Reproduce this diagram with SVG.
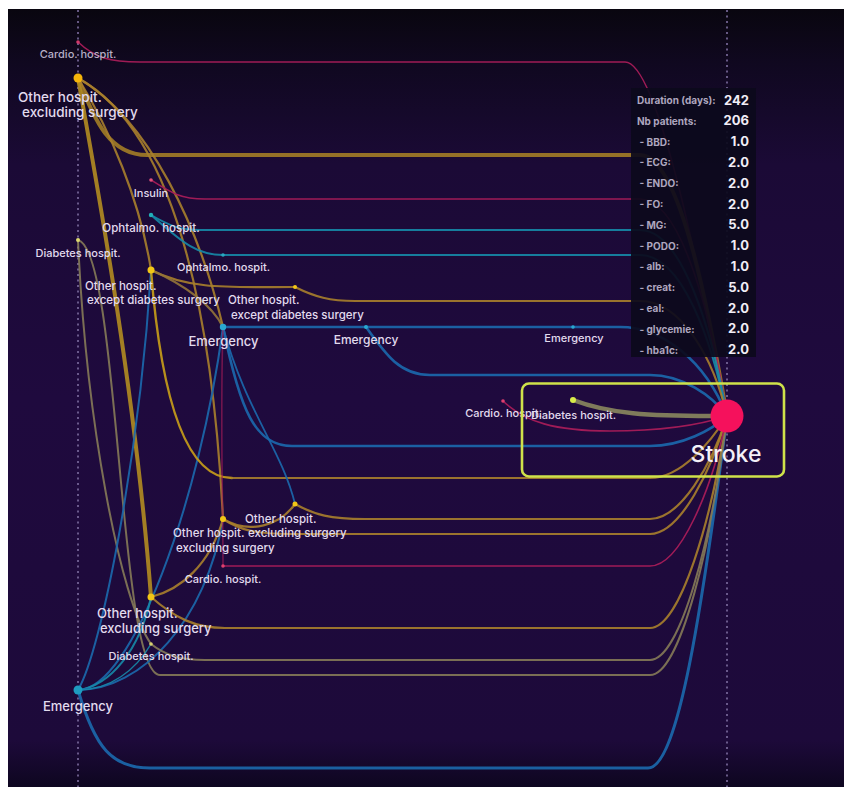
<svg xmlns="http://www.w3.org/2000/svg" width="844" height="787" viewBox="0 0 844 787">
  <defs>
    <linearGradient id="bg" x1="0" y1="9" x2="0" y2="787" gradientUnits="userSpaceOnUse">
      <stop offset="0" stop-color="#09060f"/>
      <stop offset="0.07" stop-color="#100820"/>
      <stop offset="0.2" stop-color="#1b0a36"/>
      <stop offset="0.5" stop-color="#1f0a3e"/>
      <stop offset="0.94" stop-color="#1d0a3a"/>
      <stop offset="1" stop-color="#0e0620"/>
    </linearGradient>
    <style>
      .axis { stroke: #7e6ea0; stroke-width: 1.6; stroke-dasharray: 2 3.5; fill: none; }
      .lk { fill: none; stroke-linecap: round; }
      .yt { stroke: #a07b26; stroke-width: 4; opacity: 0.92; }
      .yb { stroke: #c99e18; stroke-width: 3.2; opacity: 0.9; }
      .y { stroke: #a97f2c; stroke-width: 2.2; opacity: 0.9; }
      .g { stroke: #857a58; stroke-width: 2; opacity: 0.9; }
      .r { stroke: #a81c58; stroke-width: 1.6; opacity: 0.95; }
      .t { stroke: #168aa8; stroke-width: 2; opacity: 0.9; }
      .b { stroke: #1b68ab; stroke-width: 2.6; opacity: 0.92; }
      .lbl { font-family: Inter, "Noto Sans", "Liberation Sans", sans-serif; fill: #e2dbee; font-weight: 500; }
      .s11 { font-size: 11px; }
      .s115 { font-size: 11.5px; }
      .s12 { font-size: 12px; }
      .s13 { font-size: 13px; }
      .s135 { font-size: 13.5px; }
      .mid { text-anchor: middle; }
      .tk { font-family: Inter, "Noto Sans", "Liberation Sans", sans-serif; font-size: 10px; font-weight: 700; fill: #aea6bf; }
      .tv { font-family: Inter, "Noto Sans", "Liberation Sans", sans-serif; font-size: 13px; font-weight: 700; fill: #f1edf6; text-anchor: end; }
    </style>
  </defs>

  <!-- page and canvas -->
  <rect x="0" y="0" width="844" height="787" fill="#ffffff"/>
  <rect x="8" y="9" width="836" height="778" fill="url(#bg)"/>

  <!-- time axes -->
  <line class="axis" x1="78" y1="10" x2="78" y2="787"/>
  <line class="axis" x1="727" y1="10" x2="727" y2="787"/>

  <g id="links">
    <!-- column 1 sources -->
    <path class="lk r" d="M78,42 C95,58 110,62 140,62 H625 C660,62 705,300 727,416"/>
    <path class="lk yt" d="M78,78 C95,122 110,155 147,155 H640 C682,155 712,330 727,416"/>
    <path class="lk yt" d="M78,78 C100,200 136,400 151,597" style="stroke:#b08a22"/>
    <path class="lk y" d="M78,78 C110,130 140,200 151,270"/>
    <path class="lk y" d="M78,78 C150,120 200,230 223,327"/>
    <path class="lk y" d="M78,78 C172,130 212,300 223,519"/>
    <path class="lk g" d="M78,240 C86,420 120,600 151,644"/>
    <path class="lk g" d="M78,240 C120,250 118,675 160,675 H650 C680,675 712,545 727,416"/>
    <path class="lk b" d="M78,690 C95,748 112,768 150,768 H648 C678,768 702,610 727,416" style="stroke-width:3"/>
    <path class="lk b" d="M78,690 C102,650 140,450 151,270" style="stroke-width:2"/>
    <path class="lk b" d="M78,690 C132,690 200,500 223,327" style="stroke-width:2"/>
    <path class="lk t" d="M78,690 C110,686 140,650 151,597"/>
    <path class="lk b" d="M78,690 C142,690 206,620 223,519" style="stroke-width:2"/>
    <path class="lk t" d="M78,690 C110,690 136,670 151,644" style="stroke-width:1.5"/>

    <!-- column 2 -->
    <path class="lk r" d="M151,180 C170,192 180,199 205,199 H640 C682,199 712,320 727,416"/>
    <path class="lk t" d="M151,215 C170,226 180,230 200,230 H640 C682,230 712,330 727,416"/>
    <path class="lk t" d="M151,215 C180,240 195,255 223,255"/>
    <path class="lk y" d="M151,270 C190,290 230,287 295,287"/>
    <path class="lk y" d="M151,270 C185,285 212,305 223,327" style="stroke:#94743a"/>
    <path class="lk yb" d="M151,270 C160,385 182,478 232,478" style="stroke-width:2.4"/>
    <path class="lk y" d="M232,478 H650 C682,478 712,440 727,416"/>
    <path class="lk y" d="M151,597 C180,590 210,565 223,519"/>
    <path class="lk y" d="M151,597 C175,618 195,628 225,628 H650 C680,628 712,520 727,416"/>
    <path class="lk g" d="M151,644 C165,655 180,660 205,660 H650 C680,660 712,540 727,416"/>

    <!-- column 3 -->
    <path class="lk t" d="M223,255 H640 C682,255 712,340 727,416"/>
    <path class="lk b" d="M223,327 H573"/>
    <path class="lk b" d="M573,327 H620 C662,327 705,360 727,416"/>
    <path class="lk b" d="M366,327 C386,355 400,375 430,375 H650 C682,375 712,395 727,416"/>
    <path class="lk b" d="M223,327 C240,410 255,446 292,446 H650 C682,446 712,430 727,416"/>
    <path class="lk b" d="M223,327 C245,410 282,450 295,504" style="stroke-width:1.8"/>
    <path class="lk r" d="M223,327 C220,420 223,500 223,566" style="opacity:0.6"/>
    <path class="lk y" d="M223,519 C250,535 280,525 295,504"/>
    <path class="lk y" d="M223,519 C240,530 255,534 290,534 H650 C680,534 712,470 727,416"/>
    <path class="lk r" d="M223,566 H650 C680,566 712,490 727,416"/>

    <!-- column 4 -->
    <path class="lk y" d="M295,287 C315,297 330,301 355,301 H640 C682,301 714,360 727,416"/>
    <path class="lk y" d="M295,504 C315,515 330,519 365,519 H650 C680,519 712,465 727,416"/>

    <!-- last step before the outcome -->
    <path class="lk g" d="M573,400 C610,414 650,416 711,416" style="stroke-width:4.5;stroke:#8a875e"/>
    <path class="lk r" d="M503,401 C525,422 555,431 610,431 C660,431 700,425 727,416"/>
  </g>

  <g id="n-cardio-1">
    <circle cx="78" cy="42" r="1.8" fill="#d23a6a"/>
    <text class="lbl s11 mid" x="78" y="57.5" style="fill:#b6aec6">Cardio. hospit.</text>
  </g>
  <g id="n-other-1">
    <circle cx="78" cy="78" r="4.5" fill="#f5b50a"/>
    <text class="lbl s135" x="18" y="101.5">Other hospit.</text>
    <text class="lbl s135" x="22" y="117">excluding surgery</text>
  </g>
  <g id="n-diabetes-1">
    <circle cx="78" cy="240" r="2" fill="#dcd870"/>
    <text class="lbl s11 mid" x="78" y="256.5">Diabetes hospit.</text>
  </g>
  <g id="n-emergency-1">
    <circle cx="78" cy="690" r="4.5" fill="#1e9cc0"/>
    <text class="lbl s13 mid" x="78" y="710.5">Emergency</text>
  </g>

  <g id="n-insulin-2">
    <circle cx="151" cy="180" r="1.8" fill="#e0507a"/>
    <text class="lbl s11 mid" x="151" y="196.5">Insulin</text>
  </g>
  <g id="n-ophtalmo-2">
    <circle cx="151" cy="215" r="2.2" fill="#22b0b8"/>
    <text class="lbl s115 mid" x="151" y="232">Ophtalmo. hospit.</text>
  </g>
  <g id="n-other-except-2">
    <circle cx="151" cy="270" r="3.5" fill="#f2c616"/>
    <text class="lbl s115" x="85" y="290">Other hospit.</text>
    <text class="lbl s115" x="87" y="304">except diabetes surgery</text>
  </g>
  <g id="n-other-2">
    <circle cx="151" cy="597" r="3.5" fill="#f2c616"/>
    <text class="lbl s13" x="97" y="617.5">Other hospit.</text>
    <text class="lbl s13" x="100" y="632.5">excluding surgery</text>
  </g>
  <g id="n-diabetes-2">
    <circle cx="151" cy="644" r="1.8" fill="#d8d070"/>
    <text class="lbl s11 mid" x="151" y="660">Diabetes hospit.</text>
  </g>

  <g id="n-ophtalmo-3">
    <circle cx="223" cy="255" r="1.8" fill="#2aa8c0"/>
    <text class="lbl s11 mid" x="223.5" y="271">Ophtalmo. hospit.</text>
  </g>
  <g id="n-emergency-3">
    <circle cx="223" cy="327" r="3.2" fill="#2aa8d0"/>
    <text class="lbl s13 mid" x="223.5" y="345.5">Emergency</text>
  </g>
  <g id="n-other-3">
    <circle cx="223" cy="519" r="3" fill="#f2c616"/>
    <text class="lbl s115" x="173" y="536.5">Other hospit.</text>
    <text class="lbl s115" x="176" y="551.5">excluding surgery</text>
  </g>
  <g id="n-cardio-3">
    <circle cx="223" cy="566" r="1.8" fill="#e04070"/>
    <text class="lbl s11 mid" x="223" y="582.5">Cardio. hospit.</text>
  </g>

  <g id="n-other-except-4">
    <circle cx="295" cy="287" r="2" fill="#f2c616"/>
    <text class="lbl s115" x="228" y="304">Other hospit.</text>
    <text class="lbl s115" x="231" y="318.5">except diabetes surgery</text>
  </g>
  <g id="n-other-4">
    <circle cx="295" cy="504" r="2.5" fill="#f2c616"/>
    <text class="lbl s115" x="245" y="522.5">Other hospit.</text>
    <text class="lbl s115" x="248" y="536.5">excluding surgery</text>
  </g>

  <g id="n-emergency-5">
    <circle cx="366" cy="327" r="2" fill="#2aa8d0"/>
    <text class="lbl s12 mid" x="366" y="344">Emergency</text>
  </g>
  <g id="n-emergency-6">
    <circle cx="573" cy="327" r="1.8" fill="#2aa8d0"/>
    <text class="lbl s11 mid" x="574" y="342">Emergency</text>
  </g>
  <g id="n-cardio-6">
    <circle cx="503" cy="401" r="1.8" fill="#e04070"/>
    <text class="lbl s11 mid" x="503.5" y="416.5">Cardio. hospit.</text>
  </g>
  <g id="n-diabetes-6">
    <circle cx="573" cy="400" r="3" fill="#d8ec4a"/>
    <text class="lbl s11 mid" x="573.5" y="419">Diabetes hospit.</text>
  </g>

  <g id="n-stroke">
    <circle cx="727" cy="416" r="16.5" fill="#f5115c"/>
    <text class="lbl mid" x="726" y="461.5" style="font-size:23px;fill:#f4f0f8">Stroke</text>
  </g>

  <!-- selection frame around the last step -->
  <rect id="selection" x="522" y="383.5" width="262" height="93" rx="7" fill="none" stroke="#cfe24a" stroke-width="2.6"/>

  <!-- details panel -->
  <g id="tooltip">
    <rect x="631" y="88" width="125" height="269" fill="#0c0a1c" opacity="0.93"/>
    <text class="tk" x="637" y="104">Duration (days):</text><text class="tv" x="749" y="104.5">242</text>
    <text class="tk" x="637" y="124.8">Nb patients:</text><text class="tv" x="749" y="125.3">206</text>
    <text class="tk" x="639.5" y="145.6">- BBD:</text><text class="tv" x="749" y="146.1">1.0</text>
    <text class="tk" x="639.5" y="166.4">- ECG:</text><text class="tv" x="749" y="166.9">2.0</text>
    <text class="tk" x="639.5" y="187.2">- ENDO:</text><text class="tv" x="749" y="187.7">2.0</text>
    <text class="tk" x="639.5" y="208">- FO:</text><text class="tv" x="749" y="208.5">2.0</text>
    <text class="tk" x="639.5" y="228.8">- MG:</text><text class="tv" x="749" y="229.3">5.0</text>
    <text class="tk" x="639.5" y="249.6">- PODO:</text><text class="tv" x="749" y="250.1">1.0</text>
    <text class="tk" x="639.5" y="270.4">- alb:</text><text class="tv" x="749" y="270.9">1.0</text>
    <text class="tk" x="639.5" y="291.2">- creat:</text><text class="tv" x="749" y="291.7">5.0</text>
    <text class="tk" x="639.5" y="312">- eal:</text><text class="tv" x="749" y="312.5">2.0</text>
    <text class="tk" x="639.5" y="332.8">- glycemie:</text><text class="tv" x="749" y="333.3">2.0</text>
    <text class="tk" x="639.5" y="353.6">- hba1c:</text><text class="tv" x="749" y="354.1">2.0</text>
  </g>
</svg>
